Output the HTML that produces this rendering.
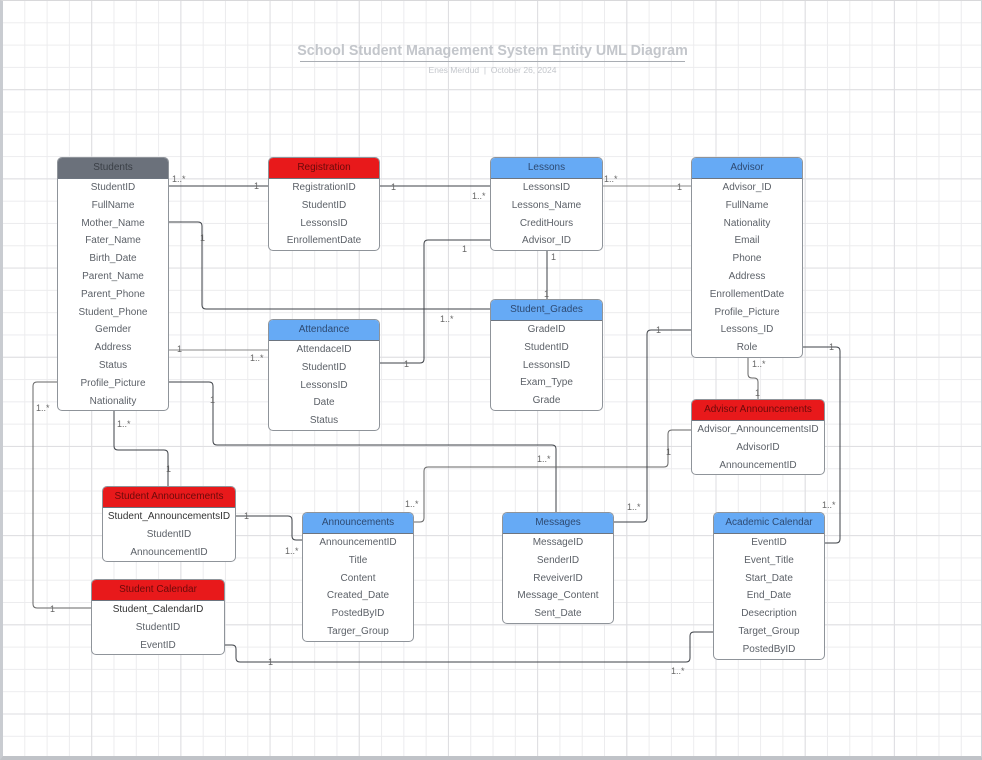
<!DOCTYPE html>
<html><head><meta charset="utf-8"><style>
html,body{margin:0;padding:0}
body{width:982px;height:760px;position:relative;overflow:hidden;font-family:"Liberation Sans",sans-serif;background:#fff}
.grid{position:absolute;left:0;top:0;width:982px;height:760px;
background-image:
linear-gradient(to right,#dedee1 1px,transparent 1px),
linear-gradient(to bottom,#dedee1 1px,transparent 1px),
linear-gradient(to right,#ececee 1px,transparent 1px),
linear-gradient(to bottom,#ececee 1px,transparent 1px);
background-size:89.2px 89.2px,89.2px 89.2px,22.3px 22.3px,22.3px 22.3px;
background-position:2px 0,0 0,2px 0,0 0;}
.frame{position:absolute;left:0;top:0;width:978px;height:755px;border-left:3px solid #c9ccd1;border-bottom:4px solid #c0c3c8;border-right:2px solid #d0d3d7;border-top:1px solid #d8d8da}
.t{position:absolute;background:#fff;border:1px solid #8f949a;border-radius:5px;overflow:hidden;box-sizing:border-box}
.h{height:20px;line-height:20px;text-align:center;font-size:10px;color:#3b4a5e;border-bottom:1px solid #6d7580}
.r{height:17.8px;line-height:17.8px;text-align:center;font-size:10px;color:#5c6168;white-space:nowrap}
.g{background:#6b717b;color:#3a3f46}
.red{background:#e8191b;color:#6b0a0a}
.b{background:#66aaf5;color:#2e4a72}
svg{position:absolute;left:0;top:0}
.title{position:absolute;left:280px;top:43px;width:425px;text-align:center;font-size:14.3px;font-weight:bold;color:#c3c6cb}
.sub{position:absolute;left:280px;top:65px;width:425px;text-align:center;font-size:8.5px;color:#c3c6cb}
.ul{position:absolute;left:300px;top:61px;width:385px;height:1px;background:#a9adb3}
</style></head><body>
<div class="grid"></div>
<div class="frame"></div>
<div class="title">School Student Management System Entity UML Diagram</div>
<div class="ul"></div>
<div class="sub">Enes Merdud &nbsp;|&nbsp; October 26, 2024</div>

<svg width="982" height="760" viewBox="0 0 982 760" fill="none" stroke="#3d4147" stroke-width="1">
<path d="M168 186H268"/>
<path d="M380 186H490"/>
<path d="M603 186H691" stroke="#888"/>
<path d="M168 222H198q4 0 4 4V305q0 4 4 4H490" />
<path d="M490 240H428q-4 0-4 4V359q0 4-4 4H380"/>
<path d="M547 249V299"/>
<path d="M168 350H268" stroke="#888"/>
<path d="M168 382H209q4 0 4 4V441q0 4 4 4H552q4 0 4 4V512" />
<path d="M57 382H37q-4 0-4 4V604q0 4 4 4H91" stroke="#666"/>
<path d="M114 410V446q0 4 4 4H164q4 0 4 4V486"/>
<path d="M236 516H288q4 0 4 4V536q0 4 4 4H302"/>
<path d="M414 522H420q4 0 4-4V471q0-4 4-4H664q4 0 4-4V434q0-4 4-4H691" stroke="#666"/>
<path d="M691 330H651q-4 0-4 4V518q0 4-4 4H614"/>
<path d="M748 356V374q0 4 4 4H754q4 0 4 4V400" stroke="#666"/>
<path d="M803 347H836q4 0 4 4V539q0 4-4 4H825"/>
<path d="M225 645H232q4 0 4 4V658q0 4 4 4H686q4 0 4-4V636q0-4 4-4H713"/>
<g fill="#666" stroke="none" font-family="Liberation Sans, sans-serif" font-size="9">
<text x="172" y="182">1..*</text><text x="254" y="189">1</text>
<text x="391" y="190">1</text><text x="472" y="199">1..*</text>
<text x="604" y="182">1..*</text><text x="677" y="190">1</text>
<text x="200" y="241">1</text><text x="462" y="252">1</text>
<text x="551" y="260">1</text><text x="544" y="297">1</text>
<text x="440" y="322">1..*</text><text x="404" y="367">1</text>
<text x="177" y="352">1</text><text x="250" y="361">1..*</text>
<text x="210" y="403">1</text><text x="537" y="462">1..*</text>
<text x="36" y="411">1..*</text><text x="50" y="612">1</text>
<text x="117" y="427">1..*</text><text x="166" y="472">1</text>
<text x="244" y="519">1</text><text x="285" y="554">1..*</text>
<text x="405" y="507">1..*</text><text x="666" y="455">1</text>
<text x="656" y="333">1</text><text x="627" y="510">1..*</text>
<text x="752" y="367">1..*</text><text x="755" y="396">1</text>
<text x="829" y="350">1</text><text x="822" y="508">1..*</text>
<text x="268" y="665">1</text><text x="671" y="674">1..*</text>
</g>
<circle cx="565" cy="308" r="1.6" fill="#d11" stroke="none"/>
</svg>

<div class="t" style="left:57px;top:157px;width:112px"><div class="h g">Students</div>
<div class="r">StudentID</div><div class="r">FullName</div><div class="r">Mother_Name</div><div class="r">Fater_Name</div><div class="r">Birth_Date</div><div class="r">Parent_Name</div><div class="r">Parent_Phone</div><div class="r">Student_Phone</div><div class="r">Gemder</div><div class="r">Address</div><div class="r">Status</div><div class="r">Profile_Picture</div><div class="r">Nationality</div></div>

<div class="t" style="left:268px;top:157px;width:112px"><div class="h red">Registration</div>
<div class="r">RegistrationID</div><div class="r">StudentID</div><div class="r">LessonsID</div><div class="r">EnrollementDate</div></div>

<div class="t" style="left:490px;top:157px;width:113px"><div class="h b">Lessons</div>
<div class="r">LessonsID</div><div class="r">Lessons_Name</div><div class="r">CreditHours</div><div class="r">Advisor_ID</div></div>

<div class="t" style="left:691px;top:157px;width:112px"><div class="h b">Advisor</div>
<div class="r">Advisor_ID</div><div class="r">FullName</div><div class="r">Nationality</div><div class="r">Email</div><div class="r">Phone</div><div class="r">Address</div><div class="r">EnrollementDate</div><div class="r">Profile_Picture</div><div class="r">Lessons_ID</div><div class="r">Role</div></div>

<div class="t" style="left:268px;top:319px;width:112px"><div class="h b">Attendance</div>
<div class="r">AttendaceID</div><div class="r">StudentID</div><div class="r">LessonsID</div><div class="r">Date</div><div class="r">Status</div></div>

<div class="t" style="left:490px;top:299px;width:113px"><div class="h b">Student_Grades</div>
<div class="r">GradeID</div><div class="r">StudentID</div><div class="r">LessonsID</div><div class="r">Exam_Type</div><div class="r">Grade</div></div>

<div class="t" style="left:691px;top:399px;width:134px"><div class="h red">Advisor Announcements</div>
<div class="r">Advisor_AnnouncementsID</div><div class="r">AdvisorID</div><div class="r">AnnouncementID</div></div>

<div class="t" style="left:102px;top:486px;width:134px"><div class="h red">Student Announcements</div>
<div class="r" style="color:#333">Student_AnnouncementsID</div><div class="r">StudentID</div><div class="r">AnnouncementID</div></div>

<div class="t" style="left:302px;top:512px;width:112px"><div class="h b">Announcements</div>
<div class="r">AnnouncementID</div><div class="r">Title</div><div class="r">Content</div><div class="r">Created_Date</div><div class="r">PostedByID</div><div class="r">Targer_Group</div></div>

<div class="t" style="left:502px;top:512px;width:112px"><div class="h b">Messages</div>
<div class="r">MessageID</div><div class="r">SenderID</div><div class="r">ReveiverID</div><div class="r">Message_Content</div><div class="r">Sent_Date</div></div>

<div class="t" style="left:713px;top:512px;width:112px"><div class="h b">Academic Calendar</div>
<div class="r">EventID</div><div class="r">Event_Title</div><div class="r">Start_Date</div><div class="r">End_Date</div><div class="r">Desecription</div><div class="r">Target_Group</div><div class="r">PostedByID</div></div>

<div class="t" style="left:91px;top:579px;width:134px"><div class="h red">Student Calendar</div>
<div class="r" style="color:#333">Student_CalendarID</div><div class="r">StudentID</div><div class="r">EventID</div></div>
</body></html>
